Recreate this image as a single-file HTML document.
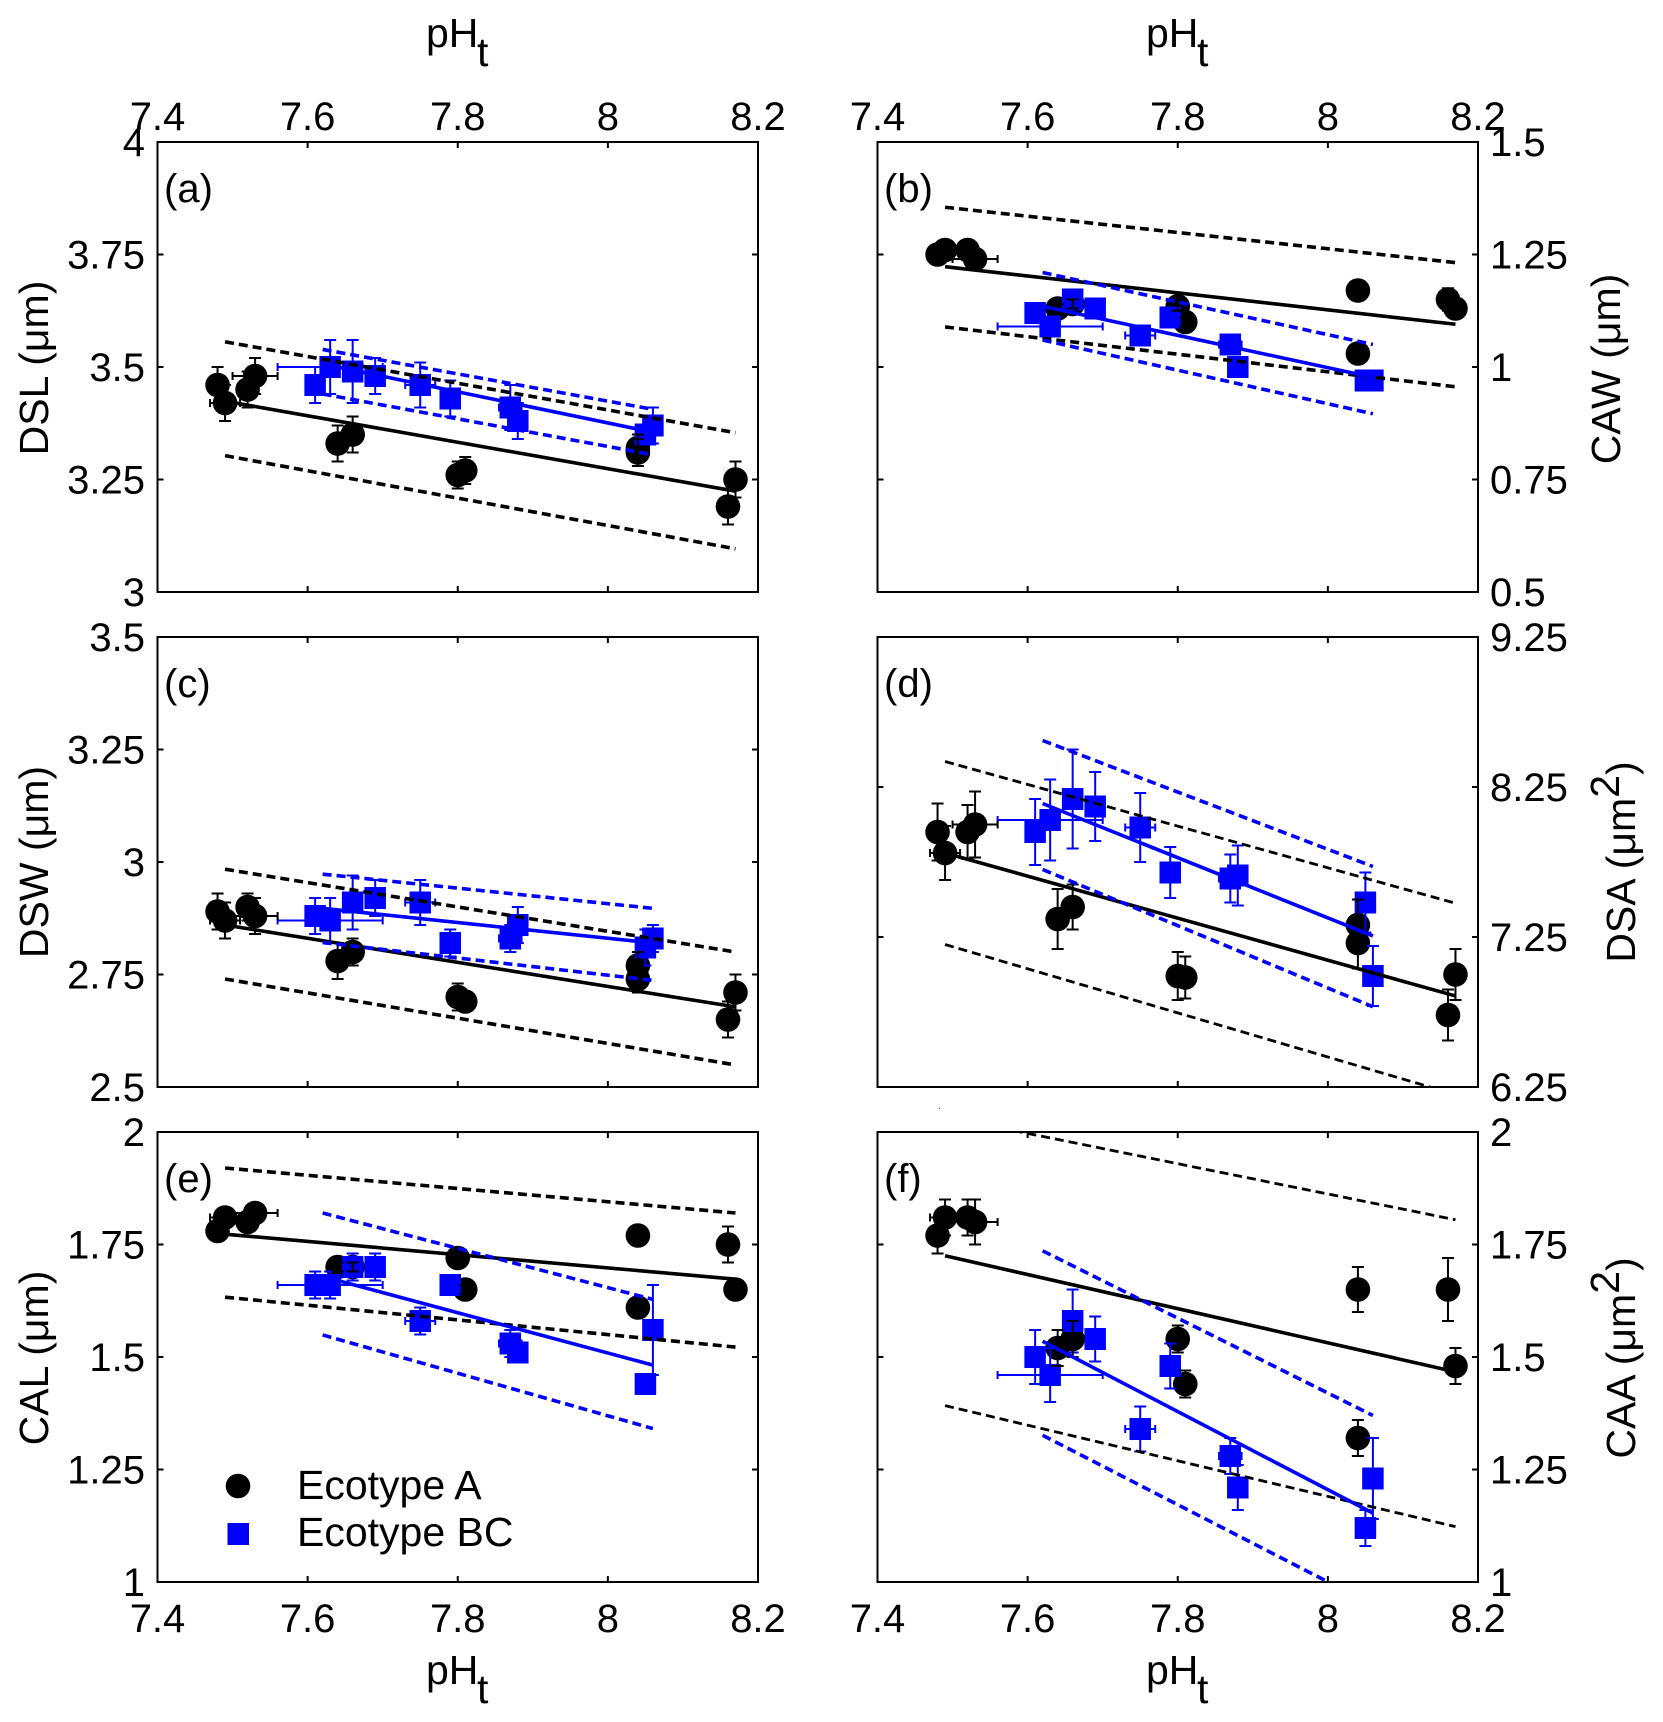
<!DOCTYPE html>
<html lang="en">
<head>
<meta charset="utf-8">
<title>Coccolith morphometrics vs pHt</title>
<style>
html,body{margin:0;padding:0;background:#fff;}
svg{display:block;}
text{font-family:"Liberation Sans",Arial,sans-serif;font-size:40px;fill:#000;}
text.title{font-size:41px;}
</style>
</head>
<body>
<svg id="chart" xmlns="http://www.w3.org/2000/svg" width="1663" height="1722" viewBox="0 0 1663 1722">
  <rect x="0" y="0" width="1663" height="1722" fill="#fff"/>
  <g id="panels"></g>

  <text class="title" x="426" y="47">pH<tspan x="477" y="66">t</tspan></text>
  <text class="title" x="1146" y="47">pH<tspan x="1197" y="66">t</tspan></text>
  <text class="title" x="426" y="1684">pH<tspan x="477" y="1703">t</tspan></text>
  <text class="title" x="1146" y="1684">pH<tspan x="1197" y="1703">t</tspan></text>

  <text class="title" text-anchor="middle" transform="translate(48 368) rotate(-90)">DSL (μm)</text>
  <text class="title" text-anchor="middle" transform="translate(48 862) rotate(-90)">DSW (μm)</text>
  <text class="title" text-anchor="middle" transform="translate(48 1358) rotate(-90)">CAL (μm)</text>
  <text class="title" text-anchor="middle" transform="translate(1620 369) rotate(-90)">CAW (μm)</text>
  <text class="title" text-anchor="middle" transform="translate(1635 862) rotate(-90)">DSA (μm<tspan dy="-16">2</tspan><tspan dy="16">)</tspan></text>
  <text class="title" text-anchor="middle" transform="translate(1635 1358) rotate(-90)">CAA (μm<tspan dy="-16">2</tspan><tspan dy="16">)</tspan></text>

  <g>
    <circle cx="238" cy="1486" r="12.3" fill="#000"/>
    <text class="title" x="297" y="1499">Ecotype A</text>
    <rect x="227.5" y="1523" width="21.5" height="22" fill="#0000ff"/>
    <text class="title" x="297" y="1546">Ecotype BC</text>
  </g>
  <rect x="939" y="1108" width="1" height="1" fill="#555"/>
</svg>

<script>
// Shared x data
const xTicks = [7.4, 7.6, 7.8, 8, 8.2];
const xTickLabels = ['7.4', '7.6', '7.8', '8', '8.2'];
const phA = [7.48, 7.49, 7.52, 7.53, 7.64, 7.66, 7.80, 7.81, 8.04, 8.04, 8.16, 8.17];
const phB = [7.61, 7.63, 7.66, 7.69, 7.75, 7.79, 7.87, 7.88, 8.05, 8.06];
const phErrA = [0, 0.02, 0, 0.03, 0, 0, 0, 0, 0, 0, 0, 0];
const phErrB = [0, 0.07, 0, 0, 0.02, 0, 0.015, 0, 0, 0];
const fitXA = [7.49, 8.17];
const fitXB = [7.62, 8.06];

// (a) DSL
const dslTicks = ['3', '3.25', '3.5', '3.75', '4'];
const dslA = [3.46, 3.42, 3.45, 3.48, 3.33, 3.35, 3.26, 3.27, 3.32, 3.31, 3.19, 3.25];
const dslAErr = [0.04, 0.04, 0.04, 0.04, 0.04, 0.04, 0.03, 0.03, 0.03, 0.03, 0.04, 0.04];
const dslB = [3.46, 3.50, 3.49, 3.48, 3.46, 3.43, 3.41, 3.38, 3.35, 3.37];
const dslBErr = [0.04, 0.06, 0.07, 0.04, 0.05, 0.04, 0.05, 0.04, 0.02, 0.04];
const dslFitA = [3.424, 3.224];
const dslUpA = [3.556, 3.354];
const dslLoA = [3.303, 3.096];
const dslFitB = [3.507, 3.355];
const dslUpB = [3.539, 3.406];
const dslLoB = [3.44, 3.305];

// (b) CAW
const cawTicks = ['0.5', '0.75', '1', '1.25', '1.5'];
const cawA = [1.25, 1.26, 1.26, 1.24, 1.13, 1.14, 1.135, 1.10, 1.17, 1.03, 1.15, 1.13];
const cawAErr = [0.01, 0.01, 0.01, 0.01, 0.01, 0.01, 0.01, 0.01, 0.01, 0.01, 0.025, 0.01];
const cawB = [1.12, 1.09, 1.15, 1.13, 1.07, 1.11, 1.05, 1.00, 0.97, 0.97];
const cawBErr = [0.01, 0.01, 0.02, 0.01, 0.01, 0.01, 0.01, 0.01, 0.01, 0.01];
const cawFitA = [1.223, 1.095];
const cawUpA = [1.355, 1.232];
const cawLoA = [1.089, 0.956];
const cawFitB = [1.135, 0.977];
const cawUpB = [1.21, 1.05];
const cawLoB = [1.06, 0.896];

// (c) DSW
const dswTicks = ['2.5', '2.75', '3', '3.25', '3.5'];
const dswA = [2.89, 2.87, 2.90, 2.88, 2.78, 2.80, 2.70, 2.69, 2.77, 2.74, 2.65, 2.71];
const dswAErr = [0.04, 0.04, 0.03, 0.04, 0.04, 0.03, 0.03, 0.02, 0.03, 0.03, 0.04, 0.04];
const dswB = [2.88, 2.87, 2.91, 2.92, 2.91, 2.82, 2.83, 2.86, 2.81, 2.83];
const dswBErr = [0.04, 0.05, 0.06, 0.04, 0.05, 0.03, 0.03, 0.04, 0.04, 0.03];
const dswFitA = [2.86, 2.678];
const dswUpA = [2.984, 2.80];
const dswLoA = [2.74, 2.549];
const dswFitB = [2.897, 2.82];
const dswUpB = [2.973, 2.897];
const dswLoB = [2.821, 2.737];

// (d) DSA
const dsaTicks = ['6.25', '7.25', '8.25', '9.25'];
const dsaA = [7.95, 7.81, 7.95, 8.00, 7.37, 7.45, 6.99, 6.98, 7.33, 7.21, 6.73, 7.00];
const dsaAErr = [0.19, 0.18, 0.18, 0.22, 0.2, 0.15, 0.16, 0.14, 0.17, 0.17, 0.17, 0.17];
const dsaB = [7.95, 8.03, 8.17, 8.12, 7.98, 7.68, 7.64, 7.66, 7.48, 6.99];
const dsaBErr = [0.22, 0.27, 0.33, 0.23, 0.23, 0.17, 0.16, 0.2, 0.2, 0.2];
const dsaFitA = [7.81, 6.857];
const dsaUpA = [8.42, 7.475];
const dsaLoA = [7.2, 6.2];
const dsaFitB = [8.14, 7.257];
const dsaUpB = [8.56, 7.72];
const dsaLoB = [7.70, 6.785];

// (e) CAL
const calTicks = ['1', '1.25', '1.5', '1.75', '2'];
const calA = [1.78, 1.81, 1.80, 1.82, 1.70, 1.70, 1.72, 1.65, 1.77, 1.61, 1.75, 1.65];
const calAErr = [0.01, 0.01, 0.01, 0.01, 0.01, 0.01, 0.01, 0.01, 0.01, 0.01, 0.04, 0.01];
const calB = [1.66, 1.66, 1.70, 1.70, 1.58, 1.66, 1.53, 1.51, 1.44, 1.56];
const calBErr = [0.03, 0.03, 0.03, 0.03, 0.03, 0.01, 0.03, 0.01, 0.01, 0.1];
const calFitA = [1.773, 1.673];
const calUpA = [1.92, 1.82];
const calLoA = [1.633, 1.522];
const calFitB = [1.679, 1.482];
const calUpB = [1.82, 1.628];
const calLoB = [1.549, 1.341];

// (f) CAA
const caaTicks = ['1', '1.25', '1.5', '1.75', '2'];
const caaA = [1.77, 1.81, 1.81, 1.80, 1.52, 1.54, 1.54, 1.44, 1.65, 1.32, 1.65, 1.48];
const caaAErr = [0.04, 0.04, 0.04, 0.05, 0.04, 0.04, 0.03, 0.03, 0.05, 0.04, 0.07, 0.04];
const caaB = [1.50, 1.46, 1.58, 1.54, 1.34, 1.48, 1.28, 1.21, 1.12, 1.23];
const caaBErr = [0.06, 0.06, 0.07, 0.05, 0.05, 0.05, 0.04, 0.05, 0.04, 0.09];
const caaFitA = [1.725, 1.467];
const caaUpA = [2.034, 1.805];
const caaLoA = [1.392, 1.123];
const caaFitB = [1.535, 1.153];
const caaUpB = [1.736, 1.37];
const caaLoB = [1.326, 0.949];

const NS = 'http://www.w3.org/2000/svg';
const BLUE = '#0000ff';
const COLS = [157.5, 877.5];
const ROWS = [142, 637, 1132];
const PW = 600.5;
const PH = 450;

const panels = [
  {key:'dsl', tag:'(a)', col:0, row:0, dashW:3.6, ticks:dslTicks, yA:dslA, eA:dslAErr, yB:dslB, eB:dslBErr, fA:dslFitA, uA:dslUpA, lA:dslLoA, fB:dslFitB, uB:dslUpB, lB:dslLoB},
  {key:'caw', tag:'(b)', col:1, row:0, dashW:3.6, ticks:cawTicks, yA:cawA, eA:cawAErr, yB:cawB, eB:cawBErr, fA:cawFitA, uA:cawUpA, lA:cawLoA, fB:cawFitB, uB:cawUpB, lB:cawLoB},
  {key:'dsw', tag:'(c)', col:0, row:1, dashW:3.6, ticks:dswTicks, yA:dswA, eA:dswAErr, yB:dswB, eB:dswBErr, fA:dswFitA, uA:dswUpA, lA:dswLoA, fB:dswFitB, uB:dswUpB, lB:dswLoB},
  {key:'dsa', tag:'(d)', col:1, row:1, dashW:2.8, ticks:dsaTicks, yA:dsaA, eA:dsaAErr, yB:dsaB, eB:dsaBErr, fA:dsaFitA, uA:dsaUpA, lA:dsaLoA, fB:dsaFitB, uB:dsaUpB, lB:dsaLoB},
  {key:'cal', tag:'(e)', col:0, row:2, dashW:3.6, ticks:calTicks, yA:calA, eA:calAErr, yB:calB, eB:calBErr, fA:calFitA, uA:calUpA, lA:calLoA, fB:calFitB, uB:calUpB, lB:calLoB},
  {key:'caa', tag:'(f)', col:1, row:2, dashW:2.8, ticks:caaTicks, yA:caaA, eA:caaAErr, yB:caaB, eB:caaBErr, fA:caaFitA, uA:caaUpA, lA:caaLoA, fB:caaFitB, uB:caaUpB, lB:caaLoB}
];

function make(tag, attrs, parent) {
  const node = document.createElementNS(NS, tag);
  for (const k in attrs) node.setAttribute(k, attrs[k]);
  parent.appendChild(node);
  return node;
}

function drawLine(parent, x1, y1, x2, y2, color, width, dash, name) {
  const attrs = {x1:x1, y1:y1, x2:x2, y2:y2, stroke:color, 'stroke-width':width};
  if (dash) attrs['stroke-dasharray'] = dash;
  const ln = make('line', attrs, parent);
  
  
  return ln;
}

function drawErrors(parent, xs, ys, ey, ex, color, sx, sy, name) {
  const cap = 6;
  xs.forEach(function (x, i) {
    const px = sx(x), py = sy(ys[i]);
    if (ey[i] > 0) {
      const top = sy(ys[i] + ey[i]), bot = sy(ys[i] - ey[i]);
      drawLine(parent, px, top, px, bot, color, 2, null, name + '-y-error-bar');
      drawLine(parent, px - cap, top, px + cap, top, color, 2, null, name + '-y-error-cap');
      drawLine(parent, px - cap, bot, px + cap, bot, color, 2, null, name + '-y-error-cap');
    }
    if (ex[i] > 0) {
      const l = sx(x - ex[i]), r = sx(x + ex[i]);
      drawLine(parent, l, py, r, py, color, 2, null, name + '-x-error-bar');
      drawLine(parent, l, py - 4, l, py + 4, color, 2, null, name + '-x-error-cap');
      drawLine(parent, r, py - 4, r, py + 4, color, 2, null, name + '-x-error-cap');
    }
  });
}

function drawFit(parent, xs, vals, color, width, dash, sx, sy, name) {
  const x1 = sx(xs[0]), x2 = sx(xs[1]);
  const y1 = sy(vals[0]), y2 = sy(vals[1]);
  drawLine(parent, x1, y1, x2, y2, color, width, dash, name);
}

function drawTickLabel(parent, x, y, anchor, str, name) {
  const t = make('text', {x:x, y:y, 'text-anchor':anchor}, parent);
  t.textContent = str;
  
  
}

const root = document.getElementById('panels');
const defs = make('defs', {}, root);

panels.forEach(function (p) {
  const L = COLS[p.col], T = ROWS[p.row];
  const R = L + PW, B = T + PH;
  const nums = p.ticks.map(parseFloat);
  const yMin = Math.min.apply(null, nums), yMax = Math.max.apply(null, nums);
  const sx = function (v) { return L + (v - xTicks[0]) / (xTicks[xTicks.length - 1] - xTicks[0]) * PW; };
  const sy = function (v) { return B - (v - yMin) / (yMax - yMin) * PH; };

  const clip = make('clipPath', {id:'clip-' + p.key}, defs);
  make('rect', {x:L, y:T, width:PW, height:PH}, clip);

  const g = make('g', {}, root);
  
  

  const plot = make('g', {'clip-path':'url(#clip-' + p.key + ')'}, g);
  
  

  // Ecotype A markers
  phA.forEach(function (x, i) {
    const c = make('circle', {cx:sx(x), cy:sy(p.yA[i]), r:12.3, fill:'#000'}, plot);
    
    
  });
  // Ecotype BC error bars and markers
  drawErrors(plot, phB, p.yB, p.eB, phErrB, BLUE, sx, sy, p.key + '-ecotype-bc');
  phB.forEach(function (x, i) {
    const r = make('rect', {x:sx(x) - 10.75, y:sy(p.yB[i]) - 11, width:21.5, height:22, fill:BLUE}, plot);
    
    
  });
  // Ecotype A error bars and fits
  drawErrors(plot, phA, p.yA, p.eA, phErrA, '#000', sx, sy, p.key + '-ecotype-a');
  drawFit(plot, fitXA, p.fA, '#000', 3.6, null, sx, sy, p.key + '-ecotype-a-fit');
  drawFit(plot, fitXA, p.uA, '#000', p.dashW, '9 5', sx, sy, p.key + '-ecotype-a-upper-ci');
  drawFit(plot, fitXA, p.lA, '#000', p.dashW, '9 5', sx, sy, p.key + '-ecotype-a-lower-ci');
  // Ecotype BC fits
  drawFit(plot, fitXB, p.fB, BLUE, 3.6, null, sx, sy, p.key + '-ecotype-bc-fit');
  drawFit(plot, fitXB, p.uB, BLUE, 3.6, '9 5', sx, sy, p.key + '-ecotype-bc-upper-ci');
  drawFit(plot, fitXB, p.lB, BLUE, 3.6, '9 5', sx, sy, p.key + '-ecotype-bc-lower-ci');

  // Frame
  const frame = make('rect', {x:L, y:T, width:PW, height:PH, fill:'none', stroke:'#000', 'stroke-width':2}, g);
  
  

  // X ticks and labels
  xTicks.forEach(function (v, i) {
    const px = sx(v);
    drawLine(g, px, T, px, T + 6, '#000', 2, null, p.key + '-x-tick-top');
    drawLine(g, px, B, px, B - 6, '#000', 2, null, p.key + '-x-tick-bottom');
    if (p.row === 0) drawTickLabel(g, px, T - 12, 'middle', xTickLabels[i], p.key + '-top-x-tick-label');
    if (p.row === 2) drawTickLabel(g, px, B + 50, 'middle', xTickLabels[i], p.key + '-bottom-x-tick-label');
  });

  // Y ticks and labels
  p.ticks.forEach(function (lab, i) {
    const py = sy(nums[i]);
    drawLine(g, L, py, L + 6, py, '#000', 2, null, p.key + '-y-tick-left');
    drawLine(g, R, py, R - 6, py, '#000', 2, null, p.key + '-y-tick-right');
    if (p.col === 0) drawTickLabel(g, 145, py + 14, 'end', lab, p.key + '-y-tick-label');
    else drawTickLabel(g, 1490, py + 14, 'start', lab, p.key + '-y-tick-label');
  });

  // Panel letter
  const letter = make('text', {x:L + 6.5, y:T + 60}, g);
  letter.textContent = p.tag;
  
  
});
</script>
</body>
</html>
